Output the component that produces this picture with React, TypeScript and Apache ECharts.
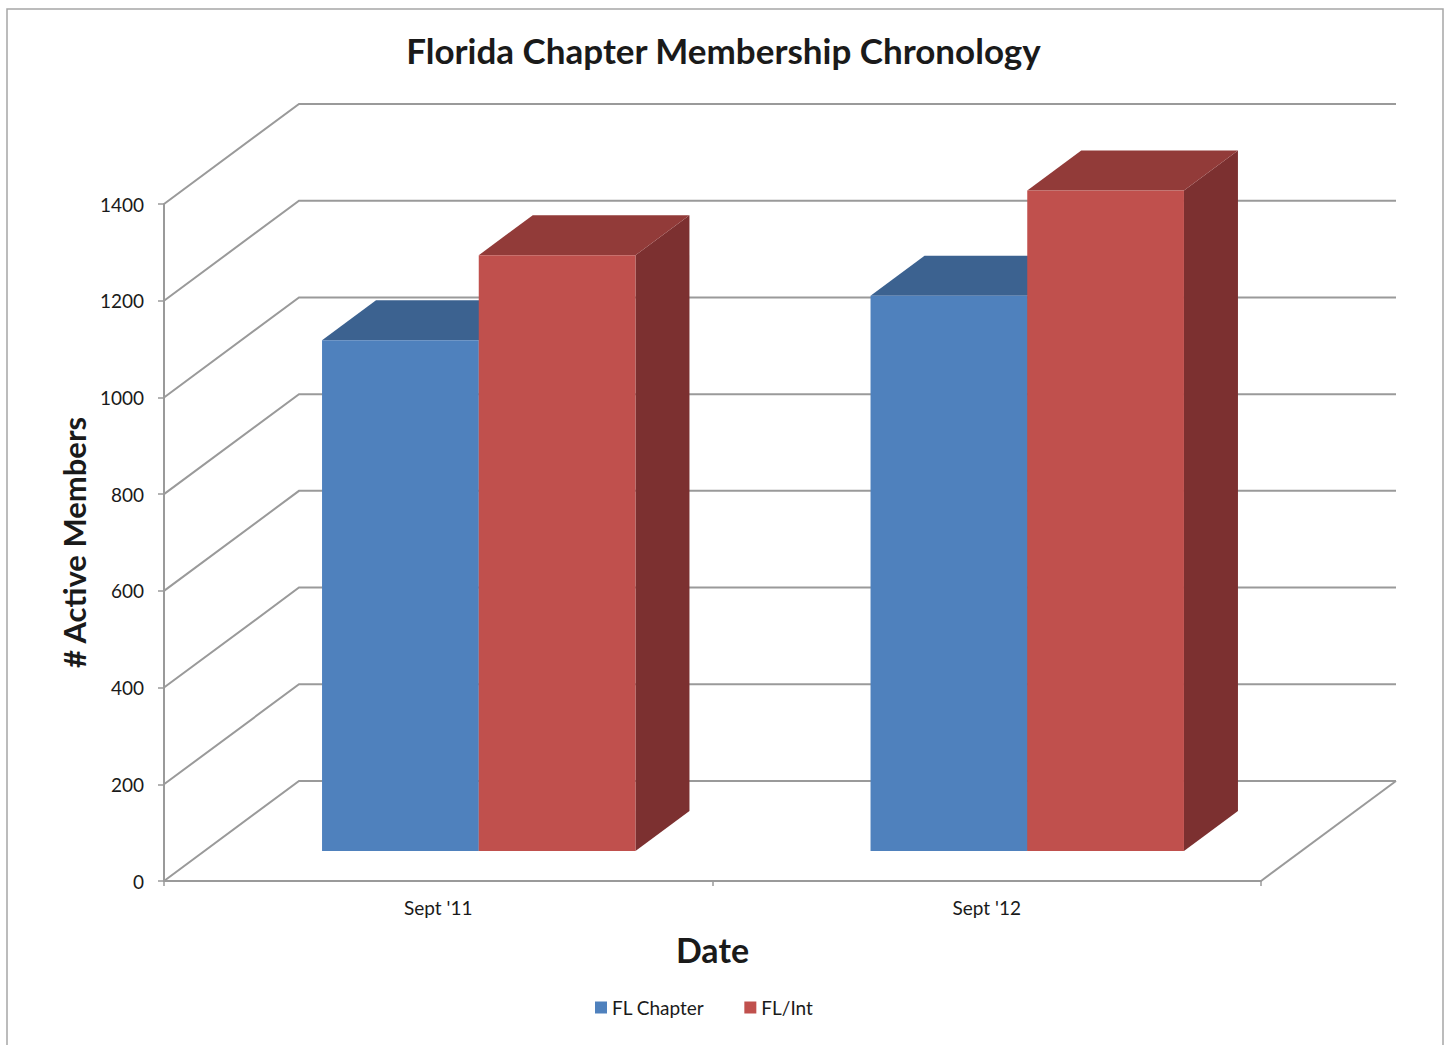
import React, { useEffect, useRef } from "react";
import * as echarts from "echarts";

const CATEGORIES = ["Sept '11", "Sept '12"];
const SERIES_NAMES = ["FL Chapter", "FL/Int"];
const FL_CHAPTER = [1056, 1148];
const FL_INT = [1232, 1366];
const Y_TICKS = [0, 200, 400, 600, 800, 1000, 1200, 1400];

const FRONT_COLORS = ["#4F81BD", "#C0504D"];
const TOP_COLORS = ["#3C6290", "#923B39"];
const SIDE_COLORS = ["#2F4D72", "#7C3030"];

// oblique projection of the full depth of the plot box
const DEPTH_DX = 135;
const DEPTH_DY = -100;
const BAR_FRONT = 0.3; // fraction of depth
const BAR_BACK = 0.7;
const GAP_WIDTH = 1.5; // 150%

const FONT = "Lato, 'Open Sans', sans-serif";
const GRID_COLOR = "#9A9A9A";

export default function App() {
  const ref = useRef<HTMLDivElement>(null);

  useEffect(() => {
    if (!ref.current) return;
    const chart = echarts.init(ref.current, null, { renderer: "svg" });

    const frameRender = (params: any, api: any) => {
      const v = api.value(1);
      const [cx, y] = api.coord([0, v]);
      const catW = api.size([1, 0])[0];
      const left = cx - catW / 2;
      const right = left + catW * CATEGORIES.length;
      const style = { stroke: GRID_COLOR, lineWidth: 2, fill: "none" };
      const children: any[] = [
        {
          type: "polyline",
          shape: {
            points: [
              [left, y],
              [left + DEPTH_DX, y + DEPTH_DY],
              [right + DEPTH_DX, y + DEPTH_DY],
            ],
          },
          style,
        },
      ];
      if (v === 0) {
        children.push({
          type: "line",
          shape: { x1: right, y1: y, x2: right + DEPTH_DX, y2: y + DEPTH_DY },
          style,
        });
      }
      return { type: "group", children };
    };

    const makeBarRender = (si: number) => (params: any, api: any) => {
      const cat = api.value(0);
      const val = api.value(1);
      const [cx, yTop] = api.coord([cat, val]);
      const [, yBase] = api.coord([cat, 0]);
      const catW = api.size([1, 0])[0];
      const n = SERIES_NAMES.length;
      const barW = catW / (n + GAP_WIDTH);
      const fdx = DEPTH_DX * BAR_FRONT;
      const fdy = DEPTH_DY * BAR_FRONT;
      const sdx = DEPTH_DX * (BAR_BACK - BAR_FRONT);
      const sdy = DEPTH_DY * (BAR_BACK - BAR_FRONT);
      const x1 = cx - (barW * n) / 2 + si * barW + fdx;
      const x2 = x1 + barW;
      const yt = yTop + fdy;
      const yb = yBase + fdy;
      return {
        type: "group",
        children: [
          {
            type: "polygon",
            shape: { points: [[x2, yt], [x2 + sdx, yt + sdy], [x2 + sdx, yb + sdy], [x2, yb]] },
            style: { fill: SIDE_COLORS[si] },
          },
          {
            type: "polygon",
            shape: { points: [[x1, yt], [x2, yt], [x2 + sdx, yt + sdy], [x1 + sdx, yt + sdy]] },
            style: { fill: TOP_COLORS[si] },
          },
          {
            type: "rect",
            shape: { x: x1, y: yt, width: barW, height: yb - yt },
            style: { fill: FRONT_COLORS[si] },
          },
        ],
      };
    };

    const seriesValues = [FL_CHAPTER, FL_INT];

    chart.setOption({
      animation: false,
      backgroundColor: "#FFFFFF",
      title: {
        text: "Florida Chapter Membership Chronology",
        left: "center",
        top: 27,
        textStyle: { fontFamily: FONT, fontSize: 35, fontWeight: "bold", color: "#1A1A1A" },
      },
      legend: {
        data: SERIES_NAMES,
        left: 595,
        top: 998,
        padding: 0,
        icon: "rect",
        itemWidth: 12,
        itemHeight: 12,
        itemGap: 40,
        textStyle: { fontFamily: FONT, fontSize: 19, color: "#1A1A1A" },
      },
      graphic: [
        {
          type: "rect",
          shape: { x: 7, y: 9, width: 1436, height: 1050 },
          style: { fill: "none", stroke: "#A6A6A6", lineWidth: 1.5 },
          silent: true,
        },
      ],
      grid: { left: 164, top: 204, width: 1097, height: 677 },
      xAxis: {
        type: "category",
        data: CATEGORIES,
        boundaryGap: true,
        name: "Date",
        nameLocation: "middle",
        nameGap: 51,
        nameTextStyle: { fontFamily: FONT, fontSize: 34, fontWeight: "bold", color: "#1A1A1A" },
        axisLine: { lineStyle: { color: GRID_COLOR, width: 2 } },
        axisTick: { show: true, length: 5, interval: 0, lineStyle: { color: GRID_COLOR, width: 1.5 } },
        axisLabel: { fontFamily: FONT, fontSize: 19, color: "#1A1A1A", margin: 17 },
        splitLine: { show: false },
      },
      yAxis: {
        type: "value",
        min: 0,
        max: 1400,
        interval: 200,
        name: "# Active Members",
        nameLocation: "middle",
        nameRotate: 90,
        nameGap: 73,
        nameTextStyle: { fontFamily: FONT, fontSize: 31, fontWeight: "bold", color: "#1A1A1A" },
        axisLine: { show: true, lineStyle: { color: GRID_COLOR, width: 2 } },
        axisTick: { show: true, length: 6, lineStyle: { color: GRID_COLOR, width: 1.5 } },
        axisLabel: {
          fontFamily: FONT,
          fontSize: 19,
          color: "#1A1A1A",
          margin: 20,
          formatter: (v: number) => String(v),
        },
        splitLine: { show: false },
      },
      series: [
        {
          type: "custom",
          name: "frame",
          z: 1,
          silent: true,
          renderItem: frameRender,
          encode: { x: 0, y: 1 },
          data: Y_TICKS.map((t) => [0, t]),
        },
        ...SERIES_NAMES.map((name, si) => ({
          type: "custom",
          name,
          z: 2,
          itemStyle: { color: FRONT_COLORS[si] },
          renderItem: makeBarRender(si),
          encode: { x: 0, y: 1 },
          data: seriesValues[si].map((v, i) => [i, v]),
        })),
      ],
    });

    return () => chart.dispose();
  }, []);

  return (
    <div
      ref={ref}
      style={{ position: "fixed", left: 0, top: 0, width: 1447, height: 1045, background: "#fff" }}
    />
  );
}
